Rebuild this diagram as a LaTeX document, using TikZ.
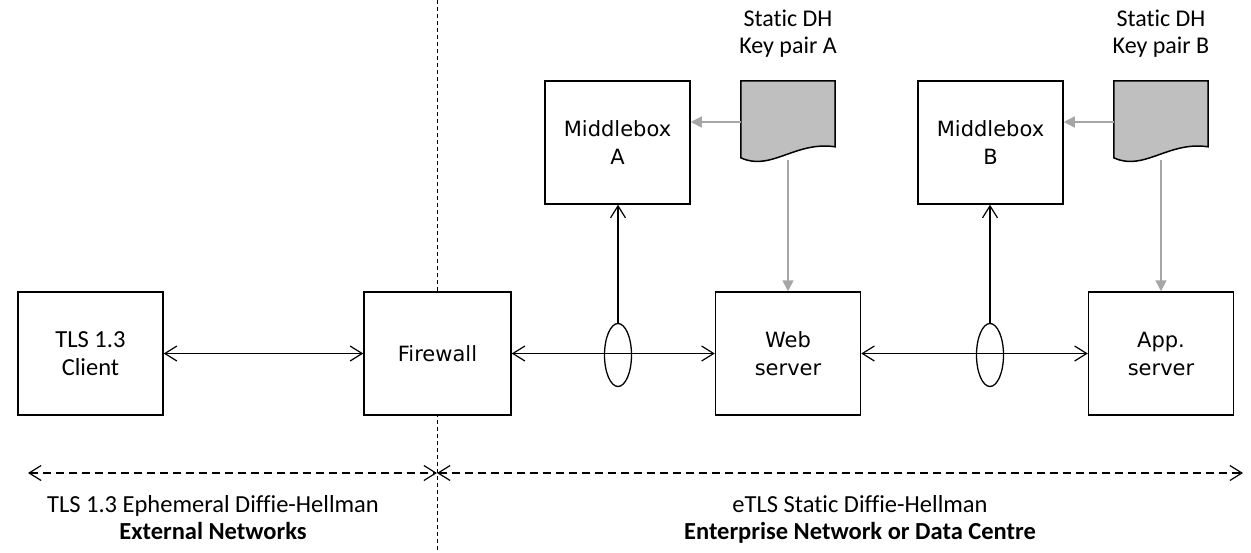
\documentclass[tikz,border=0pt]{standalone}
\usepackage{fontspec}
\setmainfont{Carlito}[Ligatures=NoCommon]
\newfontfamily\djv{DejaVu Sans}
\usetikzlibrary{arrows.meta,shapes.geometric,calc}
\begin{document}
\begin{tikzpicture}[x=1pt,y=-1pt,
  box/.style={draw,fill=white,line width=1.5pt,minimum width=145pt,minimum height=123pt,inner sep=0pt,align=center,font=\djv\fontsize{21}{28}\selectfont},
  cbox/.style={box,font=\fontsize{24.5}{28}\selectfont},
  link/.style={line width=1.2pt,{Straight Barb[length=12pt,width=15pt]}-{Straight Barb[length=12pt,width=15pt]}},
  uplink/.style={line width=1.2pt,-{Straight Barb[length=12pt,width=15pt]}},
  keyarrow/.style={line width=1.6pt,draw=black!35,-{Triangle[length=11pt,width=11pt,fill=black!35]}},
  docshape/.style={draw,line width=1.5pt,fill=black!25},
  tap/.style={draw,ellipse,line width=1.3pt,minimum width=27pt,minimum height=63pt,inner sep=0pt},
  span/.style={line width=1.2pt,dash pattern=on 8pt off 5pt,{Straight Barb[length=12pt,width=15pt]}-{Straight Barb[length=12pt,width=15pt]}},
  divider/.style={line width=0.8pt,dash pattern=on 4pt off 3pt},
  lbl/.style={anchor=base,inner sep=0pt,font=\fontsize{24.5}{28}\selectfont},
  klbl/.style={lbl,font=\fontsize{24}{28}\selectfont}
]
\useasboundingbox (0,0) rectangle (1251,552);
\fill[white] (0,0) rectangle (1251,552);

% divider
\coordinate (dtop) at (437,0);
\coordinate (dbot) at (437,552);
\draw[divider] (dtop) -- (dbot);

% boxes
\node[cbox] (client) at (90.5,353.5) {TLS 1.3\\Client};
\node[box,minimum width=147pt] (fw) at (437.5,353.5) {Firewall};
\node[box] (web) at (788,353.5) {Web\\server};
\node[box] (app) at (1161,353.5) {App.\\server};
\node[box] (mbA) at (617.5,142.5) {Middlebox\\A};
\node[box] (mbB) at (990.5,142.5) {Middlebox\\B};

% key documents
\node[minimum width=94pt,minimum height=79pt,inner sep=0pt] (docA) at (788,120.5) {};
\node[minimum width=94pt,minimum height=79pt,inner sep=0pt] (docB) at (1161,120.5) {};
\foreach \d in {docA,docB}{
  \draw[docshape] (\d.north west) -- (\d.north east) -- ($(\d.north east)+(0,66)$)
    .. controls ($(\d.north east)+(-40,60)$) and ($(\d.north west)+(30,91)$) .. ($(\d.north west)+(0,77)$) -- cycle;
}
\node[klbl] (kA1) at (788,26) {Static DH};
\node[klbl] (kA2) at (788,53) {Key pair A};
\node[klbl] (kB1) at (1161,26) {Static DH};
\node[klbl] (kB2) at (1161,53) {Key pair B};

% key arrows
\draw[keyarrow] ($(docA.west)+(0,1.5)$) coordinate (kaA) -- (kaA -| mbA.east);
\draw[keyarrow] ($(docB.west)+(0,1.5)$) coordinate (kaB) -- (kaB -| mbB.east);
\draw[keyarrow] (docA.south) -- (web.north);
\draw[keyarrow] (docB.south) -- (app.north);

% taps
\node[tap] (tapA) at (618,355) {};
\node[tap] (tapB) at (990,355) {};

% links
\draw[link] (client.east) -- (fw.west);
\draw[link] (fw.east) -- (web.west);
\draw[link] (web.east) -- (app.west);
\draw[uplink] (tapA.north) -- (tapA.north |- mbA.south);
\draw[uplink] (tapB.north) -- (tapB.north |- mbB.south);

% spans
\coordinate (sL) at (28,473);
\coordinate (sM) at (437,473);
\coordinate (sR) at (1243,473);
\draw[span] (sL) -- (sM);
\draw[span] (sM) -- (sR);

\node[lbl] (t1) at (213,512) {TLS 1.3 Ephemeral Diffie-Hellman};
\node[lbl] (t2) at (213,539) {\textbf{External Networks}};
\node[lbl] (t3) at (860,512) {eTLS Static Diffie-Hellman};
\node[lbl] (t4) at (860,539) {\textbf{Enterprise Network or Data Centre}};
\end{tikzpicture}
\end{document}
